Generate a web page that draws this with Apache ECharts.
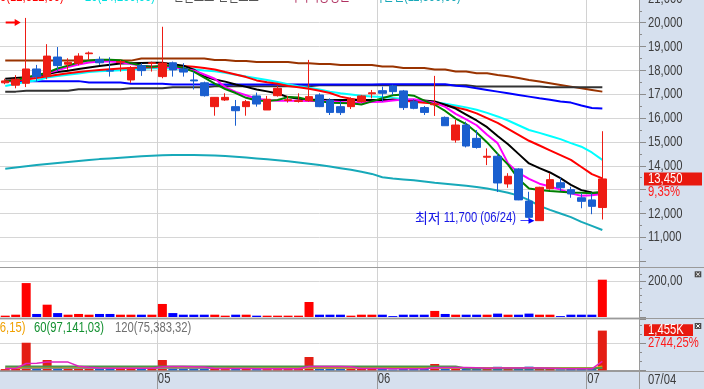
<!DOCTYPE html>
<html><head><meta charset="utf-8">
<script src="https://cdn.jsdelivr.net/npm/echarts@6/dist/echarts.min.js"></script>
<style>html,body{margin:0;padding:0;background:#fff;}#c{width:704px;height:389px;}</style>
</head><body><div id="c"></div>
<script>
const FONT = '"Liberation Sans","Noto Sans CJK KR",sans-serif';
const KFONT = '"Noto Sans CJK KR",sans-serif';
const FS = 15, SX = 0.75;   // tall, narrow HTS-like text

const dates = ['04/11','04/12','04/13','04/14','04/15','04/18','04/19','04/20','04/21','04/22','04/25','04/26','04/27','04/28','04/29',
'05/02','05/03','05/04','05/06','05/09','05/10','05/11','05/12','05/13','05/16','05/17','05/18','05/19','05/20','05/23','05/24','05/25','05/26','05/27','05/30','05/31',
'06/02','06/03','06/07','06/08','06/09','06/10','06/13','06/14','06/15','06/16','06/17','06/20','06/21','06/22','06/23','06/24','06/27','06/28','06/29','06/30',
'07/01','07/04'];
const emptySlots = ['', '', ''];

const opens  = [17480,17380,17460,18060,17740,18560,18260,18300,18700,18460,18000,18340,17600,18200,18290,17740,18320,18060,17600,17480,16480,16760,16480,16480,16930,16340,16940,16740,16700,16730,16970,16760,16480,16480,16690,17020,17150,17350,17140,16690,16440,16560,16030,15080,15710,15150,14360,14400,13240,13870,12520,11700,13040,13290,13000,12660,12570,12250];
const highs  = [17650,17800,20200,18230,19100,18980,18510,18720,18790,18580,18550,18440,18180,18300,18370,19830,18370,18300,17950,17530,16880,17040,16760,16760,17070,16930,17350,16930,17040,18440,17040,16830,16720,16870,16970,17180,17320,17400,17180,16790,16510,17770,16070,15920,15850,15500,14730,14520,13690,13900,12910,13120,13690,13500,13120,12850,12850,15450];
const lows   = [17420,17250,17300,17530,17630,17950,18020,18210,18440,18230,17740,17950,17480,17770,17950,17670,17740,17740,17200,16900,16100,16720,15680,16100,16480,16340,16900,16650,16650,16690,16460,16130,16130,16380,16650,16830,16690,16970,16340,16370,16130,16090,15680,14970,14770,14720,14030,12900,13080,12560,11800,11700,13000,12940,12660,12220,11970,11750];
const closes = [17560,17630,18060,17740,18600,18200,18340,18600,18730,18320,17970,18370,18110,17990,18320,18310,18020,17930,17560,16940,16870,16870,16310,16690,16590,16790,17250,16770,16730,16900,16480,16240,16230,16790,16930,17060,17040,17110,16440,16410,16240,16600,15680,15710,14830,14770,14400,13280,13560,12570,11840,13100,13420,13080,12820,12510,12300,13450];

// price moving averages / bands
const maBrown = [18410,18410,18410,18410,18410,18410,18410,18410,18410,18410,18410,18410,18410,18500,18500,18500,18500,18500,18500,18500,18440,18440,18395,18395,18350,18350,18350,18350,18300,18300,18270,18270,18225,18225,18225,18225,18160,18160,18100,18100,18100,18040,18040,17950,17950,17880,17880,17810,17750,17680,17600,17530,17460,17390,17320,17250,17180,17110];
const maDark  = [17110,17110,17150,17150,17150,17150,17150,17210,17210,17210,17210,17210,17250,17250,17250,17250,17290,17290,17290,17290,17340,17340,17340,17340,17340,17340,17340,17340,17340,17340,17380,17380,17380,17380,17380,17380,17380,17380,17380,17380,17380,17380,17380,17380,17380,17330,17330,17330,17330,17330,17330,17330,17290,17290,17290,17290,17290,17290];
const maBlue  = [17550,17550,17550,17550,17550,17550,17550,17550,17490,17490,17490,17490,17440,17440,17440,17440,17410,17410,17410,17410,17410,17410,17410,17410,17410,17410,17410,17410,17410,17410,17410,17410,17410,17410,17410,17410,17420,17420,17420,17420,17420,17420,17420,17360,17320,17250,17180,17110,17040,16970,16900,16830,16770,16700,16650,16530,16420,16400];
const maCyan  = [17350,17430,17520,17580,17700,17760,17820,17870,17930,17960,17990,18010,18040,18080,18090,18090,18080,18070,18050,18000,17960,17900,17820,17740,17670,17600,17510,17420,17340,17270,17200,17110,17040,16990,16940,16910,16880,16840,16800,16760,16710,16660,16600,16530,16450,16350,16220,16070,15900,15700,15500,15380,15250,15120,14950,14800,14560,14250];
const maRed   = [17560,17580,17620,17680,17750,17820,17880,17930,17980,18020,18050,18080,18100,18120,18130,18150,18180,18180,18150,18100,18040,17930,17830,17720,17580,17500,17440,17350,17290,17230,17150,17050,16900,16810,16740,16720,16730,16780,16740,16690,16640,16610,16550,16450,16350,16200,16000,15800,15550,15300,15050,14850,14650,14450,14250,13950,13650,13470];
const maBlack = [17650,17680,17710,17760,17850,17930,17990,18060,18120,18180,18240,18290,18300,18310,18320,18320,18260,18200,18030,17750,17620,17530,17410,17310,17200,17120,17030,16880,16810,16780,16770,16760,16760,16760,16760,16760,16760,16760,16760,16760,16740,16700,16560,16400,16150,15900,15620,15250,14900,14500,14100,13900,13720,13480,13200,12980,12880,12860];
const maMagenta = [17560,17600,17680,17780,17880,18000,18140,18250,18330,18370,18370,18340,18270,18200,18170,18160,18130,18070,18000,17830,17650,17300,17100,16960,16810,16760,16730,16730,16730,16720,16720,16710,16680,16650,16650,16670,16690,16740,16780,16790,16720,16640,16470,16180,15950,15700,15300,14950,14100,13700,13450,13250,13130,13000,12850,12740,12770,12820];
const maGreen = [17560,17600,17700,17800,17900,18080,18200,18330,18420,18450,18450,18430,18300,18200,18150,18200,18200,18100,17950,17700,17450,17220,17050,16850,16740,16720,16760,16880,16860,16760,16720,16640,16630,16620,16570,16700,16830,16960,16990,16940,16730,16560,16300,15980,15750,15400,14980,14500,14050,13450,13050,12990,12940,12910,12880,12870,12850,12910];
const bandLow = [13880,13930,13980,14030,14080,14120,14160,14200,14240,14280,14310,14340,14370,14400,14420,14440,14450,14450,14450,14440,14430,14410,14380,14350,14310,14270,14230,14190,14140,14090,14030,13970,13900,13830,13750,13660,13520,13470,13430,13390,13340,13290,13250,13210,13160,13110,13050,12960,12870,12750,12560,12320,12150,12000,11850,11650,11480,11310];

// middle panel: trading value (억원)
const tradeValue = [7.5,13,190,17,69,22,13,17,13,17,17,13,13,13,13,73,22,13,13,13,13,7.5,13,13,7.5,7.5,7.5,7.5,7.5,84,13,13,13,7.5,13,13,13,5,13,13,13,34,17,13,13,13,13,19,13,13,19,13,13,5,13,13,13,209];
// bottom panel: volume (shares)
const volumes = [45000,72000,1010000,90000,377000,115000,70000,90000,70000,88000,92000,68000,72000,70000,66000,377000,118000,70000,74000,71000,70000,44000,75000,70000,46000,45000,44000,46000,45000,487000,76000,78000,80000,48000,80000,78000,80000,32000,82000,84000,86000,231000,110000,88000,92000,90000,88000,130000,92000,95000,135000,96000,94000,36000,86000,84000,51160,1455118];
const volMa5   = [70000,70000,250000,260000,300000,300000,300000,150000,110000,80000,75000,75000,75000,75000,75000,130000,135000,135000,130000,125000,70000,65000,65000,65000,60000,55000,55000,55000,55000,140000,140000,140000,135000,130000,65000,65000,65000,60000,60000,60000,60000,90000,100000,100000,100000,95000,75000,80000,80000,80000,85000,80000,75000,65000,60000,60000,55000,330000];
const volMa20  = [80000,80000,120000,120000,120000,120000,120000,120000,120000,120000,120000,120000,120000,120000,120000,120000,120000,120000,120000,120000,120000,120000,85000,85000,85000,85000,85000,85000,85000,95000,95000,95000,95000,95000,95000,95000,95000,95000,95000,95000,95000,95000,95000,95000,95000,95000,95000,95000,95000,80000,80000,80000,80000,80000,80000,80000,80000,150000];
const volMa60  = [140000,140000,140000,140000,140000,140000,140000,140000,140000,140000,140000,140000,140000,140000,140000,140000,140000,140000,140000,140000,140000,140000,140000,140000,140000,140000,140000,140000,140000,140000,140000,140000,140000,140000,140000,140000,140000,140000,140000,140000,140000,140000,140000,140000,70000,70000,70000,70000,70000,70000,70000,70000,70000,70000,70000,70000,70000,97141];
const volMa120 = [75000,75000,75000,75000,75000,75000,75000,75000,75000,75000,75000,75000,75000,75000,75000,75000,75000,75000,75000,75000,75000,75000,75000,75000,75000,75000,75000,75000,75000,75000,75000,75000,75000,75000,75000,75000,75000,75000,75000,75000,75000,75000,75000,75000,75000,75000,75000,75000,75000,75000,75000,75000,75000,75000,75000,75000,75000,75383];

const priceAxis = {min: 10000, max: 21000, step: 1000};
const valueAxis = {min: 0, max: 280, step: 200};
const volAxis = {min: 0, max: 1880000, step: 1000000};

const topLegend = [
  {text: '5(12,812,00)', color: '#ff0000', x: 0},
  {text: '20(14,250,00)', color: '#00e0e0', x: 85},
  {text: '엔벨로프 엔벨로프', color: '#555555', x: 173},
  {text: '가격이동평균', color: '#b03060', x: 288},
  {text: '하한선(11,306,00)', color: '#17a8b8', x: 373}
];
const volLegend = [
  {text: '20(126,906,15)', color: '#f0a000', x: 25.5, align: 'right'},
  {text: '60(97,141,03)', color: '#129030', x: 34, align: 'left'},
  {text: '120(75,383,32)', color: '#707070', x: 115, align: 'left'}
];
const lowWord = '최저';

const UP = '#ee1c14', DOWN = '#1a5fcf';
const UP2 = '#ff0000', DOWN2 = '#0000ff';
const AX = '#8c8c8c';
const LBL = '#3c3c3c';
const N = dates.length;
const cats = dates.concat(emptySlots);
const monthStart = [];
for (let i = 1; i < N; i++) if (dates[i].slice(0, 2) !== dates[i - 1].slice(0, 2)) monthStart.push(i);
const isMS = (i) => monthStart.indexOf(i) >= 0;
const fmt = (v) => Math.round(v).toLocaleString('en-US');
const dec = (v) => v.toFixed(2).replace('.', ',');

const chart = echarts.init(document.getElementById('c'), null, {renderer: 'canvas', width: 704, height: 389});

function gridDef(top, height) {
  return {left: 0, right: 65, top: top, height: height, containLabel: false, outerBoundsMode: 'none'};
}
function xDef(gi, extra) {
  return Object.assign({type: 'category', gridIndex: gi, data: cats, boundaryGap: true,
    axisLine: {show: false}, axisTick: {show: false}, axisLabel: {show: false}, splitLine: {show: false}}, extra || {});
}
function yDef(gi, ax, minorSplit) {
  return {type: 'value', gridIndex: gi, position: 'right', min: ax.min, max: ax.max, interval: ax.step,
    axisLine: {show: true, lineStyle: {color: AX}},
    axisTick: {show: true, length: 7, lineStyle: {color: AX}},
    minorTick: {show: true, splitNumber: minorSplit, length: 3, lineStyle: {color: AX}},
    axisLabel: {show: false},
    splitLine: {show: true, lineStyle: {color: '#d6d6d6', width: 1}}};
}
function lineS(data, color, width, xi, yi, z) {
  return {type: 'line', data: data, xAxisIndex: xi, yAxisIndex: yi, showSymbol: false, symbol: 'none',
    lineStyle: {color: color, width: width}, itemStyle: {color: color}, z: z || 2, silent: true, animation: false};
}

const candleData = dates.map((d, i) => [opens[i], closes[i], lows[i], highs[i]]);
let hiIdx = 0, loIdx = 0;
for (let i = 0; i < N; i++) { if (highs[i] > highs[hiIdx]) hiIdx = i; if (lows[i] < lows[loIdx]) loIdx = i; }

const arrowThick = 'path://M0,2.5 L9,2.5 L9,0 L15,3.5 L9,7 L9,4.5 L0,4.5 Z';
const arrowThin = 'path://M0,2.6 L8,2.6 L8,0 L14,3 L8,6 L8,3.4 L0,3.4 Z';

const option = {
  animation: false,
  backgroundColor: '#ffffff',
  grid: [gridDef(0, 371), gridDef(-1.15, 262.35), gridDef(267, 50), gridDef(319, 51.3)],
  xAxis: [
    xDef(0, {splitLine: {show: true, interval: (i) => isMS(i), lineStyle: {color: '#d2d2d2', width: 1}}}),
    xDef(1), xDef(2),
    xDef(3, {
      axisLine: {show: true, lineStyle: {color: '#9a9a9a'}},
      axisTick: {show: true, interval: (i) => isMS(i), length: 19, lineStyle: {color: '#9a9a9a'}}
    })
  ],
  yAxis: [
    {type: 'value', gridIndex: 0, show: false, min: 0, max: 1},
    yDef(1, priceAxis, 2),
    yDef(2, valueAxis, 5),
    yDef(3, volAxis, 3)
  ],
  series: [
    lineS(bandLow, '#17a9b9', 2, 1, 1),
    lineS(maBrown, '#993300', 2, 1, 1),
    lineS(maDark, '#333333', 2, 1, 1),
    lineS(maBlue, '#0000ff', 2, 1, 1),
    lineS(maCyan, '#00ffff', 2, 1, 1),
    lineS(maRed, '#ff0000', 2, 1, 1),
    lineS(maBlack, '#000000', 2, 1, 1),
    lineS(maMagenta, '#ff00ff', 2, 1, 1),
    lineS(maGreen, '#008000', 2, 1, 1),
    {
      type: 'candlestick', xAxisIndex: 1, yAxisIndex: 1, data: candleData, barWidth: 8, z: 5,
      itemStyle: {color: UP, color0: DOWN, borderColor: UP, borderColor0: DOWN, borderWidth: 1},
      markPoint: {
        silent: true, animation: false,
        data: [
          {coord: [hiIdx, highs[hiIdx]], symbol: arrowThick, symbolSize: [15, 7], symbolKeepAspect: false,
            symbolOffset: [-13, 4.5], itemStyle: {color: '#ff0000'}, label: {show: false}},
          {coord: [loIdx, lows[loIdx]], symbol: arrowThin, symbolSize: [14, 6], symbolKeepAspect: false,
            symbolOffset: [-12, 0], itemStyle: {color: '#0000ff'}, label: {show: false}}
        ]
      }
    },
    {type: 'bar', xAxisIndex: 2, yAxisIndex: 2, barWidth: 9, z: 3,
      data: tradeValue.map((v, i) => ({value: v, itemStyle: {color: closes[i] >= opens[i] ? UP2 : DOWN2}}))},
    {type: 'bar', xAxisIndex: 3, yAxisIndex: 3, barWidth: 9, z: 3,
      data: volumes.map((v, i) => ({value: v, itemStyle: {color: closes[i] >= opens[i] ? '#e41e14' : '#1a62cc'}}))},
    lineS(volMa120, '#8a8a8a', 1.5, 3, 3, 4),
    lineS(volMa20, '#f0a000', 1.5, 3, 3, 4),
    lineS(volMa60, '#4a944a', 2, 3, 3, 4),
    lineS(volMa5, '#e020c0', 1.5, 3, 3, 4)
  ]
};
chart.setOption(option);

function txt(x, y, text, color, align, z) {
  return {type: 'text', z: z || 21, x: x, y: y, scaleX: SX, silent: true,
    style: {text: text, fill: color, font: FS + 'px ' + FONT, align: align || 'left', verticalAlign: 'middle',
      textAlign: align || 'left', textVerticalAlign: 'middle'}};
}
const measCtx = document.createElement('canvas').getContext('2d');
function textW(text, font) { measCtx.font = font; return measCtx.measureText(text).width; }

const SEP = '#9a9a9a';
const g = [];
g.push({type: 'rect', z: -1, shape: {x: 639, y: 0, width: 65, height: 389}, style: {fill: '#d6e0ee'}, silent: true});
g.push({type: 'rect', z: -1, shape: {x: 0, y: 371, width: 704, height: 18}, style: {fill: '#d6e0ee'}, silent: true});
[267.5, 318.5, 371.5].forEach((y) => g.push({type: 'line', z: 20, shape: {x1: 0, y1: y, x2: 704, y2: y}, style: {stroke: SEP, lineWidth: 1}, silent: true}));
g.push({type: 'line', z: 20, shape: {x1: 639.5, y1: 0, x2: 639.5, y2: 389}, style: {stroke: SEP, lineWidth: 1}, silent: true});

const yLast = Math.round(chart.convertToPixel({yAxisIndex: 1}, closes[N - 1]));

// axis tick labels, placed through the axes' own scales (hidden where the last-price tag sits)
for (let v = priceAxis.min + priceAxis.step; v <= priceAxis.max; v += priceAxis.step) {
  const py = chart.convertToPixel({yAxisIndex: 1}, v);
  if (py > yLast - 11 && py < yLast + 20) continue;
  g.push(txt(648, py, fmt(v), LBL));
}
for (let v = valueAxis.step; v < valueAxis.max; v += valueAxis.step) {
  g.push(txt(648, chart.convertToPixel({yAxisIndex: 2}, v), dec(v), LBL));
}
monthStart.forEach((i) => {
  g.push(txt(chart.convertToPixel({xAxisIndex: 3}, i) - 4.5, 378.8, dates[i].slice(0, 2), LBL));
});
g.push(txt(648, 379.5, dates[N - 1], LBL));

// legends
topLegend.forEach((t) => g.push(txt(t.x, -2.7, t.text, t.color, 'left')));
volLegend.forEach((t) => g.push(txt(t.x, 327.5, t.text, t.color, t.align)));

// low annotation text: narrow numbers + Korean word
const loPt = chart.convertToPixel({xAxisIndex: 1, yAxisIndex: 1}, [loIdx, lows[loIdx]]);
const loNum = fmt(lows[loIdx]) + ' (' + dates[loIdx] + ')';
const loRight = loPt[0] - 23.5, loY = loPt[1] - 2.5;
g.push(txt(loRight, loY, loNum, '#1515e6', 'right'));
const numW = textW(loNum, FS + 'px ' + FONT) * SX;
g.push({type: 'text', z: 21, x: loRight - numW - 3, y: loY, silent: true,
  style: {text: lowWord, fill: '#1515e6', font: '14px ' + KFONT, align: 'right', verticalAlign: 'middle', textAlign: 'right', textVerticalAlign: 'middle'}});

// last price tag
const pct = (closes[N - 1] / closes[N - 2] - 1) * 100;
const vpct = (volumes[N - 1] / volumes[N - 2] - 1) * 100;
g.push({type: 'rect', z: 20, shape: {x: 644, y: yLast - 6.5, width: 58, height: 13}, style: {fill: '#e8190f'}, silent: true});
g.push(txt(648, yLast, fmt(closes[N - 1]), '#ffffff'));
g.push(txt(648, yLast + 13, dec(pct) + '%', '#ff1a1a'));
// last volume tag
g.push({type: 'rect', z: 20, shape: {x: 644, y: 324.3, width: 49, height: 11.7}, style: {fill: '#e8190f'}, silent: true});
g.push(txt(648, 330.2, fmt(volumes[N - 1] / 1000) + 'K', '#ffffff'));
g.push(txt(648, 343, dec(vpct) + '%', '#ff1a1a'));
// small panel icons
[271.3, 323].forEach((y) => {
  g.push({type: 'rect', z: 21, shape: {x: 694.7, y: y, width: 6.6, height: 6}, style: {fill: '#4a4a4a'}, silent: true});
  g.push({type: 'line', z: 22, shape: {x1: 696.2, y1: y + 1.3, x2: 699.8, y2: y + 4.7}, style: {stroke: '#fff', lineWidth: 1}, silent: true});
  g.push({type: 'line', z: 22, shape: {x1: 699.8, y1: y + 1.3, x2: 696.2, y2: y + 4.7}, style: {stroke: '#fff', lineWidth: 1}, silent: true});
});
chart.setOption({graphic: g});
</script></body></html>
